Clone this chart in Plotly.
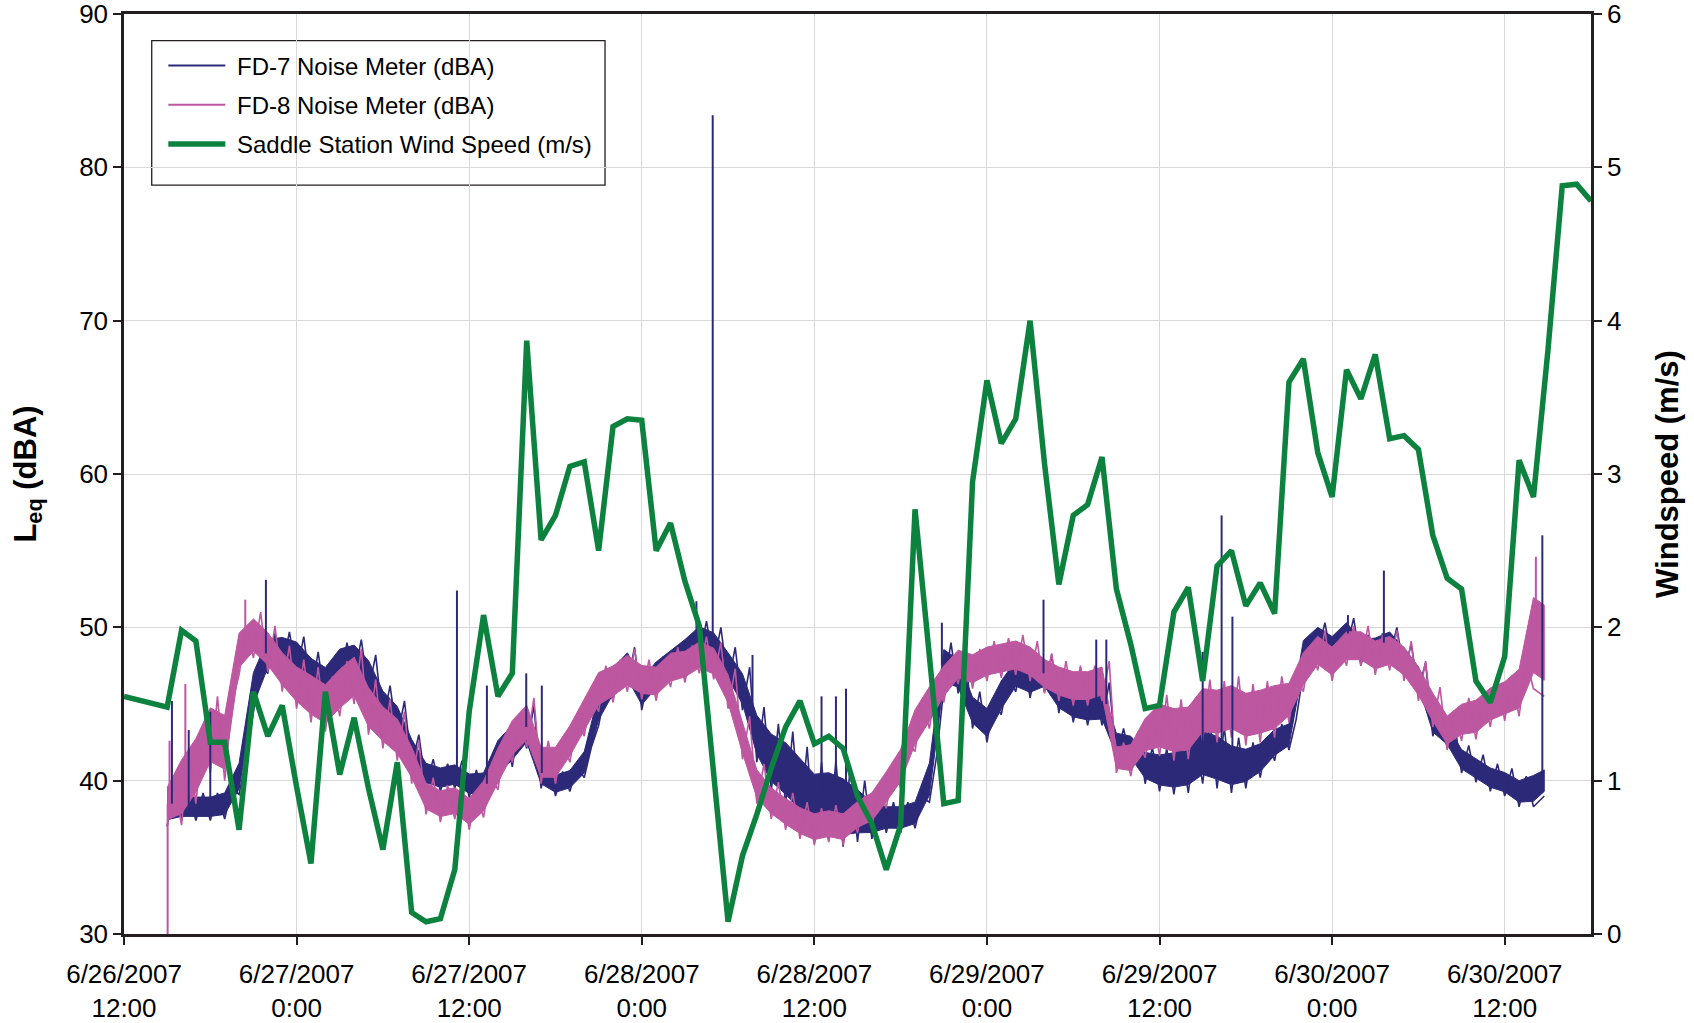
import plotly.graph_objects as go
import pandas as pd

# ---------------- data ----------------
x_tick_vals = ["2007-06-26 12:00", "2007-06-27 00:00", "2007-06-27 12:00", "2007-06-28 00:00",
               "2007-06-28 12:00", "2007-06-29 00:00", "2007-06-29 12:00", "2007-06-30 00:00",
               "2007-06-30 12:00"]
x_tick_text = ["6/26/2007<br>12:00", "6/27/2007<br>0:00", "6/27/2007<br>12:00", "6/28/2007<br>0:00",
               "6/28/2007<br>12:00", "6/29/2007<br>0:00", "6/29/2007<br>12:00", "6/30/2007<br>0:00",
               "6/30/2007<br>12:00"]
left_ticks = [30, 40, 50, 60, 70, 80, 90]
right_ticks = [0, 1, 2, 3, 4, 5, 6]

# Saddle Station wind speed (m/s): first reading 6/26 12:00, then hourly 6/26 15:00 .. 6/30 18:00
wind_time = ["2007-06-26 12:00"] + pd.date_range("2007-06-26 15:00", "2007-06-30 18:00", freq="h").strftime("%Y-%m-%d %H:%M").tolist()
wind_speed = [1.55,
    1.48, 1.98, 1.91, 1.25, 1.25, 0.68, 1.58, 1.29, 1.49,
    0.96, 0.46, 1.58, 1.04, 1.41, 0.95, 0.55, 1.12, 0.14, 0.08, 0.10, 0.42,
    1.45, 2.08, 1.55, 1.70, 3.87, 2.57, 2.73, 3.05, 3.08, 2.50, 3.31, 3.36,
    3.35, 2.50, 2.68, 2.30, 2.01, 1.05, 0.08, 0.51, 0.78, 1.08, 1.35, 1.52,
    1.24, 1.29, 1.21, 0.90, 0.72, 0.42, 0.71, 2.77, 1.81, 0.85, 0.87, 2.95,
    3.61, 3.20, 3.36, 4.00, 3.07, 2.28, 2.73, 2.80, 3.11, 2.25, 1.89, 1.47,
    1.49, 2.10, 2.26, 1.65, 2.40, 2.50, 2.14, 2.29, 2.09, 3.60, 3.75, 3.14,
    2.85, 3.68, 3.49, 3.78, 3.23, 3.25, 3.16, 2.60, 2.32, 2.25, 1.65, 1.51,
    1.81, 3.09, 2.85, 3.80, 4.88, 4.89, 4.78]

# Noise meters: hourly level (centre of the trace band) and band half-width, 6/26 15:00 .. 6/30 14:00, end 14:45
noise_time = pd.date_range("2007-06-26 15:00", "2007-06-30 14:00", freq="h").strftime("%Y-%m-%d %H:%M").tolist() + ["2007-06-30 14:45"]

fd7_level = [38.5, 38.3, 38.3, 38.3, 38.5, 40.3, 46.0, 48.3, 48.5,
    48.2, 47.0, 46.4, 47.6, 48.0, 47.0, 45.0, 44.0, 42.0, 40.5, 40.2, 40.4,
    39.8, 39.8, 41.5, 42.5, 43.5, 40.5, 39.8, 40.1, 41.2, 44.8, 46.5, 47.5,
    45.8, 46.9, 47.8, 48.5, 49.2, 48.8, 47.5, 46.0, 43.0, 41.5, 40.8, 39.8,
    38.6, 38.7, 38.3, 38.0, 37.6, 37.6, 37.6, 37.9, 40.1, 47.5, 47.0, 44.6,
    43.8, 45.6, 47.0, 46.6, 47.0, 45.6, 45.0, 44.8, 45.0, 42.4, 42.2, 41.0,
    40.7, 40.7, 41.0, 41.8, 41.5, 41.0, 41.0, 41.5, 42.5, 43.0, 48.3, 49.3,
    48.7, 49.6, 48.5, 48.6, 49.0, 48.0, 46.8, 43.8, 43.0, 41.4, 40.8, 40.2,
    39.9, 39.3, 39.5, 40.0]
fd7_halfwidth = [1.5, 0.9, 0.9, 0.9, 1.0, 1.2, 1.5, 1.3, 1.2,
    1.2, 1.4, 1.4, 1.4, 1.2, 1.2, 1.2, 1.2, 1.0, 0.9, 0.9, 0.9,
    0.9, 1.0, 1.6, 1.6, 1.4, 1.0, 0.8, 0.8, 1.0, 1.2, 1.2, 1.2,
    1.2, 1.2, 1.0, 1.0, 1.2, 1.2, 1.2, 1.4, 1.8, 2.2, 2.4, 2.4,
    2.6, 2.6, 2.6, 2.0, 1.4, 1.0, 1.0, 1.0, 1.5, 1.5, 1.3, 1.2,
    1.3, 1.3, 1.2, 1.2, 1.2, 1.2, 1.2, 1.2, 1.4, 1.0, 1.0, 1.2,
    1.4, 1.6, 1.8, 2.0, 2.0, 1.8, 1.5, 1.3, 1.2, 1.0, 1.2, 1.0,
    1.0, 1.0, 1.0, 1.0, 1.0, 0.9, 0.9, 0.9, 0.9, 0.9, 0.9, 0.9,
    0.9, 1.0, 1.2, 1.0]

fd8_level = [38.5, 39.6, 41.0, 43.0, 42.5, 48.5, 49.5, 48.6, 47.3,
    46.3, 45.6, 45.0, 46.0, 46.8, 44.8, 43.7, 42.9, 41.2, 39.0, 38.5, 38.7,
    38.0, 39.0, 41.0, 42.8, 43.8, 41.2, 41.2, 42.6, 44.3, 46.0, 46.5, 47.2,
    46.6, 46.5, 47.4, 47.6, 48.2, 47.8, 46.0, 42.8, 39.8, 38.7, 38.0, 37.4,
    37.0, 37.2, 37.0, 37.8, 38.3, 39.6, 41.0, 43.5, 45.0, 46.5, 47.6, 47.3,
    47.8, 48.0, 48.2, 47.8, 47.0, 46.5, 46.2, 46.2, 46.5, 41.5, 41.5, 43.0,
    43.6, 43.3, 43.4, 44.6, 44.5, 44.8, 44.3, 44.5, 44.8, 45.3, 47.3, 48.5,
    47.8, 48.8, 48.8, 48.2, 48.5, 47.8, 46.5, 44.8, 43.3, 44.0, 44.2, 45.0,
    45.4, 46.0, 49.5, 49.0]
fd8_halfwidth = [1.5, 2.5, 2.5, 2.5, 2.5, 1.6, 1.5, 1.5, 1.5,
    1.6, 1.8, 1.8, 1.8, 1.8, 1.8, 1.6, 1.6, 1.4, 1.2, 1.2, 1.2,
    1.2, 1.4, 1.6, 1.6, 1.6, 1.4, 1.4, 1.4, 1.4, 1.5, 1.4, 1.4,
    1.3, 1.3, 1.3, 1.2, 1.2, 1.2, 1.3, 1.4, 1.3, 1.2, 1.2, 1.2,
    1.2, 1.2, 1.2, 1.2, 1.3, 1.4, 1.5, 1.6, 1.6, 1.4, 1.3, 1.3,
    1.3, 1.3, 1.3, 1.3, 1.3, 1.3, 1.3, 1.3, 1.3, 1.0, 1.2, 1.5,
    2.0, 2.0, 2.0, 2.0, 2.0, 2.0, 2.0, 2.0, 2.0, 1.5, 1.5, 1.3,
    1.3, 1.3, 1.3, 1.3, 1.3, 1.3, 1.3, 1.3, 1.3, 1.4, 1.5, 1.5,
    1.5, 1.8, 3.5, 3.5]

# isolated peaks of the 1-minute records
fd7_spike_time = ["2007-06-26 15:20", "2007-06-26 16:30", "2007-06-26 18:00", "2007-06-26 21:52",
                  "2007-06-27 11:09", "2007-06-27 13:14", "2007-06-27 15:58", "2007-06-27 17:03",
                  "2007-06-28 03:48", "2007-06-28 04:56", "2007-06-28 07:42", "2007-06-28 12:30",
                  "2007-06-28 13:30", "2007-06-28 14:12", "2007-06-28 20:52", "2007-06-29 03:56",
                  "2007-06-29 07:36", "2007-06-29 08:18", "2007-06-29 15:00", "2007-06-29 16:19",
                  "2007-06-29 17:04", "2007-06-30 01:06", "2007-06-30 03:36", "2007-06-30 14:37"]
fd7_spike_value = [45.2, 43.3, 44.5, 53.1, 52.4, 46.2, 47.0, 46.2, 51.7, 83.4, 48.2, 45.5,
                   45.5, 46.0, 50.3, 51.8, 49.2, 49.2, 48.4, 57.3, 50.7, 50.8, 53.7, 56.0]
fd8_spike_time = ["2007-06-26 15:02", "2007-06-26 15:10", "2007-06-26 16:16", "2007-06-26 20:26",
                  "2007-06-30 14:10"]
fd8_spike_value = [30.0, 42.6, 46.3, 51.8, 54.6]

# ---------------- styling ----------------
C7 = "#2c2a78"
C8 = "#bc57a0"
CW = "#0d823f"
AX = "#231f20"
GRID = "#d9d9d9"
FONT = "Liberation Sans, Arial, sans-serif"

ntimes = pd.to_datetime(noise_time)


def band(level, hw, color, group):
    """solid core of the trace band"""
    hi = [l + 0.7 * h for l, h in zip(level, hw)]
    lo = [l - 0.7 * h for l, h in zip(level, hw)]
    return go.Scatter(x=noise_time + noise_time[::-1], y=hi + lo[::-1], fill="toself",
                      fillcolor=color, line=dict(color=color, width=1), mode="lines",
                      hoverinfo="skip", showlegend=False, legendgroup=group)


def jitter(level, hw, color, group):
    """hourly low / high excursions of the band"""
    xs, ys = [], []
    for k, (t, l, h) in enumerate(zip(ntimes, level, hw)):
        xs.append(t)
        ys.append(l - h)
        if k < len(ntimes) - 1 and (ntimes[k + 1] - t) >= pd.Timedelta("60min"):
            xs.append(t + pd.Timedelta("30min"))
            ys.append(l + h)
    return go.Scatter(x=xs, y=ys, mode="lines", line=dict(color=color, width=1.6),
                      hoverinfo="skip", showlegend=False, legendgroup=group)


def spikes(times, values, level, color, name, group):
    xs, ys = [], []
    for t, v in zip(times, values):
        i = int(abs(ntimes - pd.Timestamp(t)).argmin())
        xs += [t, t, None]
        ys += [level[i], v, None]
    return go.Scatter(x=xs, y=ys, mode="lines", line=dict(color=color, width=2),
                      name="&nbsp;" + name, legendgroup=group)


fig = go.Figure()
fig.add_trace(band(fd7_level, fd7_halfwidth, C7, "g7"))
fig.add_trace(jitter(fd7_level, fd7_halfwidth, C7, "g7"))
fig.add_trace(band(fd8_level, fd8_halfwidth, C8, "g8"))
fig.add_trace(jitter(fd8_level, fd8_halfwidth, C8, "g8"))
fig.add_trace(spikes(fd7_spike_time, fd7_spike_value, fd7_level, C7, "FD-7 Noise Meter (dBA)", "g7"))
fig.add_trace(spikes(fd8_spike_time, fd8_spike_value, fd8_level, C8, "FD-8 Noise Meter (dBA)", "g8"))
fig.add_trace(go.Scatter(x=wind_time, y=wind_speed, yaxis="y2", mode="lines",
                         line=dict(color=CW, width=5.5), name="&nbsp;Saddle Station Wind Speed (m/s)",
                         legendgroup="gw"))

# legend frame (drawn above the grid, below the data)
fig.add_shape(type="rect", xref="paper", yref="paper", x0=0.0189, x1=0.3279, y0=0.8141, y1=0.971,
              fillcolor="white", line=dict(color=AX, width=1.3), layer="between")

fig.update_layout(
    width=1694, height=1023,
    margin=dict(l=124, r=103, t=14, b=89, autoexpand=False),
    paper_bgcolor="white", plot_bgcolor="white",
    font=dict(family=FONT, color="black", size=26),
    showlegend=True,
    legend=dict(x=0.0268, y=0.968, xanchor="left", yanchor="top",
                bgcolor="rgba(0,0,0,0)", borderwidth=0,
                font=dict(size=24, family=FONT), itemwidth=57,
                traceorder="grouped", tracegroupgap=5),
    xaxis=dict(type="date", range=["2007-06-26 12:00", "2007-06-30 18:00"],
               tickvals=x_tick_vals, ticktext=x_tick_text, automargin=False,
               ticklabeloverflow="allow",
               showgrid=True, gridcolor=GRID, gridwidth=1,
               showline=True, linecolor=AX, linewidth=2.5, mirror=True,
               ticks="outside", ticklen=8, tickwidth=1.5, tickcolor=AX,
               tickfont=dict(size=26), ticklabelstandoff=7, zeroline=False),
    yaxis=dict(range=[30, 90], tickvals=left_ticks, automargin=False,
               ticklabeloverflow="allow",
               showgrid=True, gridcolor=GRID, gridwidth=1,
               showline=True, linecolor=AX, linewidth=2.5,
               ticks="outside", ticklen=8, tickwidth=1.5, tickcolor=AX,
               tickfont=dict(size=26), zeroline=False,
               title=dict(text="<b>L<sub>eq</sub> (dBA)</b>", font=dict(size=31), standoff=34)),
    yaxis2=dict(range=[0, 6], tickvals=right_ticks, overlaying="y", side="right", automargin=False,
                ticklabeloverflow="allow",
                showgrid=False, showline=True, linecolor=AX, linewidth=2.5,
                ticks="outside", ticklen=8, tickwidth=1.5, tickcolor=AX,
                tickfont=dict(size=26), zeroline=False,
                title=dict(text="<b>Windspeed (m/s)</b>", font=dict(size=31), standoff=36)),
)

fig.write_html("out.html", config={"displayModeBar": False},
               post_script="document.body.style.margin='0';")
